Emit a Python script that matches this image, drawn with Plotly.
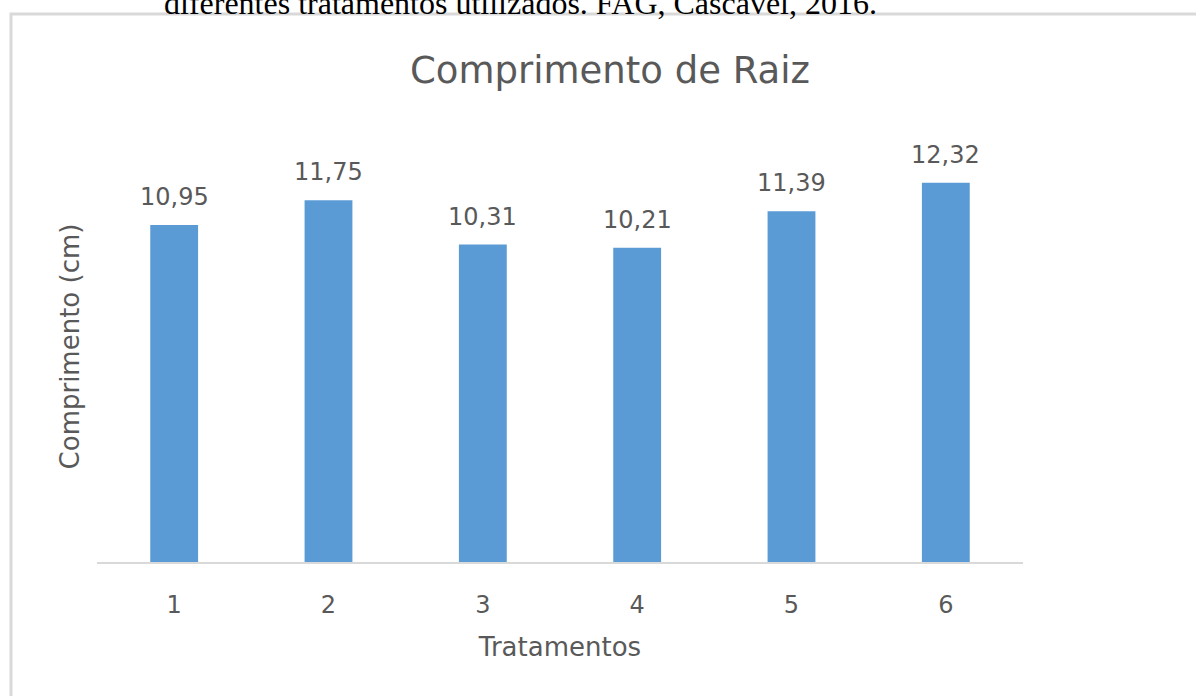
import plotly.graph_objects as go

# data
tratamentos = ["1", "2", "3", "4", "5", "6"]
comprimento = [10.95, 11.75, 10.31, 10.21, 11.39, 12.32]

titulo = "Comprimento de Raiz"
legenda_topo = "diferentes tratamentos utilizados. FAG, Cascavel, 2016."

W, H = 1196, 696
ml, mr, mt, mb = 97, 173, 131, 134
pw, ph = W - ml - mr, H - mt - mb

def px_x(x):
    return (x - ml) / pw

def px_y(y):
    return (H - mb - y) / ph

txt = "#595959"
font = "DejaVu Sans, sans-serif"

fig = go.Figure()
fig.add_trace(go.Bar(x=tratamentos, y=comprimento, width=0.31,
                     marker=dict(color="#5b9bd5", line=dict(width=0)),
                     hoverinfo="x+y"))

# data labels above bars (category index as x)
for i, v in enumerate(comprimento):
    fig.add_annotation(x=i, y=v, text=f"{v:.2f}".replace(".", ","),
                       showarrow=False, yanchor="bottom", yshift=12,
                       font=dict(size=24, color=txt, family=font))

# cut-off caption from the document above the chart
fig.add_annotation(xref="paper", yref="paper", x=px_x(520), y=px_y(3),
                   text=legenda_topo, showarrow=False, xanchor="center",
                   yanchor="middle",
                   font=dict(size=32, color="black", family="Liberation Serif, serif"))

# chart border
fig.add_shape(type="rect", xref="paper", yref="paper",
              x0=px_x(11), x1=px_x(1215), y0=px_y(14), y1=px_y(720),
              line=dict(color="#d9d9d9", width=3), layer="below")

fig.update_layout(
    width=W, height=H,
    margin=dict(l=ml, r=mr, t=mt, b=mb),
    paper_bgcolor="white", plot_bgcolor="white",
    separators=",.",
    showlegend=False,
    title=dict(text=titulo, x=610 / W, xanchor="center",
               y=1 - 70 / H, yanchor="middle",
               font=dict(size=37, color=txt, family=font)),
    xaxis=dict(type="category", range=[-0.5, 5.5], automargin=False,
               showline=True, linecolor="#d9d9d9", linewidth=1.5,
               ticks="", ticklabelstandoff=20,
               tickfont=dict(size=24, color=txt, family=font),
               title=dict(text="Tratamentos", standoff=20,
                          font=dict(size=26, color=txt, family=font))),
    yaxis=dict(range=[0, 14], showgrid=False, showticklabels=False,
               zeroline=False, showline=False, automargin=False,
               title=dict(text="Comprimento (cm)", standoff=8,
                          font=dict(size=26, color=txt, family=font))),
)

# drop the browser's default body margin so the figure sits at (0, 0)
fig.write_html("out.html", config={"displayModeBar": False},
               post_script="document.body.style.margin='0';")
